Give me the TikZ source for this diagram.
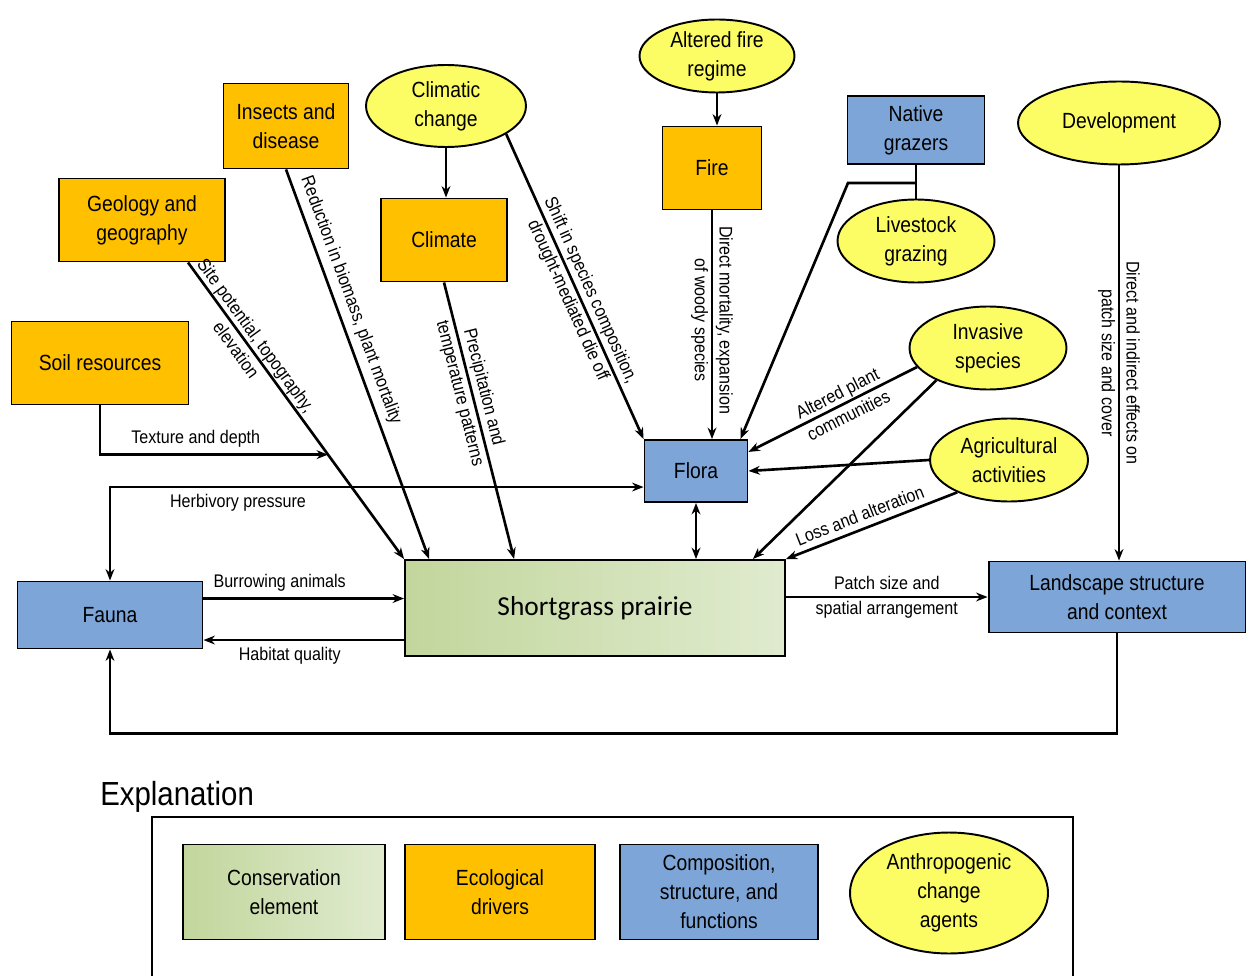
\documentclass[tikz,border=0pt]{standalone}
\usepackage{fontspec}
\setmainfont[FakeStretch=0.88]{Liberation Sans}
\newfontfamily\prairiefont{Carlito}
\usetikzlibrary{arrows.meta,shapes.geometric,calc}

\definecolor{driverorange}{RGB}{255,192,0}
\definecolor{traitblue}{RGB}{125,165,215}
\definecolor{agentyellow}{RGB}{252,252,100}
\definecolor{grassdark}{RGB}{194,214,156}
\definecolor{grasslight}{RGB}{224,235,207}

\tikzset{
	boxtext/.style={font=\fontsize{12.5}{16.5}\selectfont, align=center, inner sep=0pt},
	driver/.style={boxtext, draw, line width=1.1pt, fill=driverorange},
	trait/.style={boxtext, draw, line width=1.1pt, fill=traitblue},
	agent/.style={boxtext, draw, line width=1.1pt, fill=agentyellow, ellipse},
	element/.style={boxtext, draw, line width=1.1pt, left color=grassdark, right color=grasslight},
	lbl/.style={font=\fontsize{10.4}{14}\selectfont, align=center},
	arr/.style={line width=1.5pt, -{Stealth[length=6.5pt,width=5pt]}},
	dbl/.style={line width=1.5pt, {Stealth[length=6.5pt,width=5pt]}-{Stealth[length=6.5pt,width=5pt]}},
}

\begin{document}
\begin{tikzpicture}[x=0.02cm, y=-0.02cm]

\def\pagew{1247}
\def\pageh{976}

\path [use as bounding box] (0,0) rectangle (\pagew,\pageh);

% DRIVERS
\node [driver, minimum width=3.54cm, minimum height=1.66cm] (soil) at (100,363) {Soil resources};
\node [driver, minimum width=3.32cm, minimum height=1.66cm] (geology) at (142,220) {Geology and\\geography};
\node [driver, minimum width=2.5cm, minimum height=1.7cm] (insects) at (286,126) {Insects and\\disease};
\node [driver, minimum width=2.52cm, minimum height=1.66cm] (climate) at (444,240) {Climate};
\node [driver, minimum width=1.98cm, minimum height=1.66cm] (fire) at (712,168) {Fire};

% AGENTS
\node [agent, minimum width=3.2cm, minimum height=1.64cm] (climatic) at (446,106) {Climatic\\change};
\node [agent, minimum width=3.1cm, minimum height=1.46cm] (altfire) at (717,56) {Altered fire\\regime};
\node [agent, minimum width=3.14cm, minimum height=1.66cm] (livestock) at (916,241) {Livestock\\grazing};
\node [agent, minimum width=4.04cm, minimum height=1.66cm] (development) at (1119,123) {Development};
\node [agent, minimum width=3.14cm, minimum height=1.66cm] (invasive) at (988,348) {Invasive\\species};
\node [agent, minimum width=3.16cm, minimum height=1.66cm] (agric) at (1009,460) {Agricultural\\activities};

% TRAITS
\node [trait, minimum width=2.74cm, minimum height=1.36cm] (native) at (916,130) {Native\\grazers};
\node [trait, minimum width=2.06cm, minimum height=1.24cm] (flora) at (696,471) {Flora};
\node [trait, minimum width=3.7cm, minimum height=1.34cm] (fauna) at (110,615) {Fauna};
\node [trait, minimum width=5.14cm, minimum height=1.42cm] (landscape) at (1117,597) {Landscape structure\\and context};

% ELEMENT
\node [element, minimum width=7.6cm, minimum height=1.92cm, font=\prairiefont\fontsize{15.6}{18}\selectfont] (prairie) at (595,608) {Shortgrass prairie};

% INTO PRAIRIE
\draw [arr] (geology.south) ++(46,0) -- (prairie.north west)
	coordinate [pos=0.648] (soiljoin)
	node [lbl, pos=0.27, sloped] {Site potential, topography,\\elevation};
\draw [arr] (soil.south) |- (soiljoin) node [lbl, pos=0.71, above] {Texture and depth};
\draw [arr] (insects.south) -- ($(prairie.north west)+(25,0)$)
	node [lbl, pos=0.35, sloped, above] {Reduction in biomass, plant mortality};
\draw [arr] (climatic.south) -- (climatic.south |- climate.north);
\draw [arr] (climate.south) -- ($(prairie.north west)+(110,0)$)
	node [lbl, pos=0.39, sloped] {Precipitation and\\temperature patterns};
\draw [arr] (invasive.212) -- ($(prairie.north east)+(-33,0)$);
\draw [arr] (agric.212) -- (prairie.north east)
	node [lbl, pos=0.54, sloped, above] {Loss and alteration};

% INTO FLORA
\draw [arr] (climatic.-25) -- (flora.north west)
	node [lbl, pos=0.53, sloped] {Shift in species composition,\\drought-mediated die off};
\draw [arr] (altfire.south) -- (altfire.south |- fire.north);
\draw [arr] (fire.south) -- (fire.south |- flora.north)
	node [lbl, pos=0.48, sloped] {Direct mortality, expansion\\of woody species};
\draw [line width=1.5pt] (native.south) -- (livestock.north);
\draw [arr] (native.south) ++(0,18) -- ++(-68,0) -- ($(flora.north east)+(-8,0)$);
\draw [arr] (invasive.195) -- (flora.20)
	node [lbl, pos=0.44, sloped] {Altered plant\\communities};
\draw [arr] (agric.west) -- (flora.east);
\draw [dbl] (flora.south) -- (flora.south |- prairie.north);

% FAUNA
\draw [dbl] (fauna.north) |- (flora.197) node [lbl, pos=0.62, below] {Herbivory pressure};
\draw [arr] (fauna.10) -- (fauna.10 -| prairie.west) node [lbl, pos=0.38, above] {Burrowing animals};
\draw [arr] (fauna.-15 -| prairie.west) -- (fauna.-15) node [lbl, pos=0.57, below] {Habitat quality};

% LANDSCAPE
\draw [arr] (prairie.east |- landscape.west) -- (landscape.west)
	node [lbl, midway] {Patch size and\\spatial arrangement};
\draw [arr] (development.south) -- (development.south |- landscape.north)
	node [lbl, pos=0.5, sloped] {Direct and indirect effects on\\patch size and cover};
\draw [arr] (landscape.south) -- ++(0,100) -| (fauna.south);

% EXPLANATION
\node [font=\fontsize{19}{22}\selectfont, anchor=base west, inner sep=0pt] (explain) at (100,805) {Explanation};
\draw [line width=1.5pt] (152,990) -- (152,817) -- (1073,817) -- (1073,990);
\node [element, minimum width=4.04cm, minimum height=1.9cm] (keyelement) at (284,892) {Conservation\\element};
\node [driver, minimum width=3.8cm, minimum height=1.9cm] (keydriver) at (500,892) {Ecological\\drivers};
\node [trait, minimum width=3.96cm, minimum height=1.9cm] (keytrait) at (719,892) {Composition,\\structure, and\\functions};
\node [agent, minimum width=3.96cm, minimum height=2.42cm] (keyagent) at (949,893) {Anthropogenic\\change\\agents};

\end{tikzpicture}
\end{document}
